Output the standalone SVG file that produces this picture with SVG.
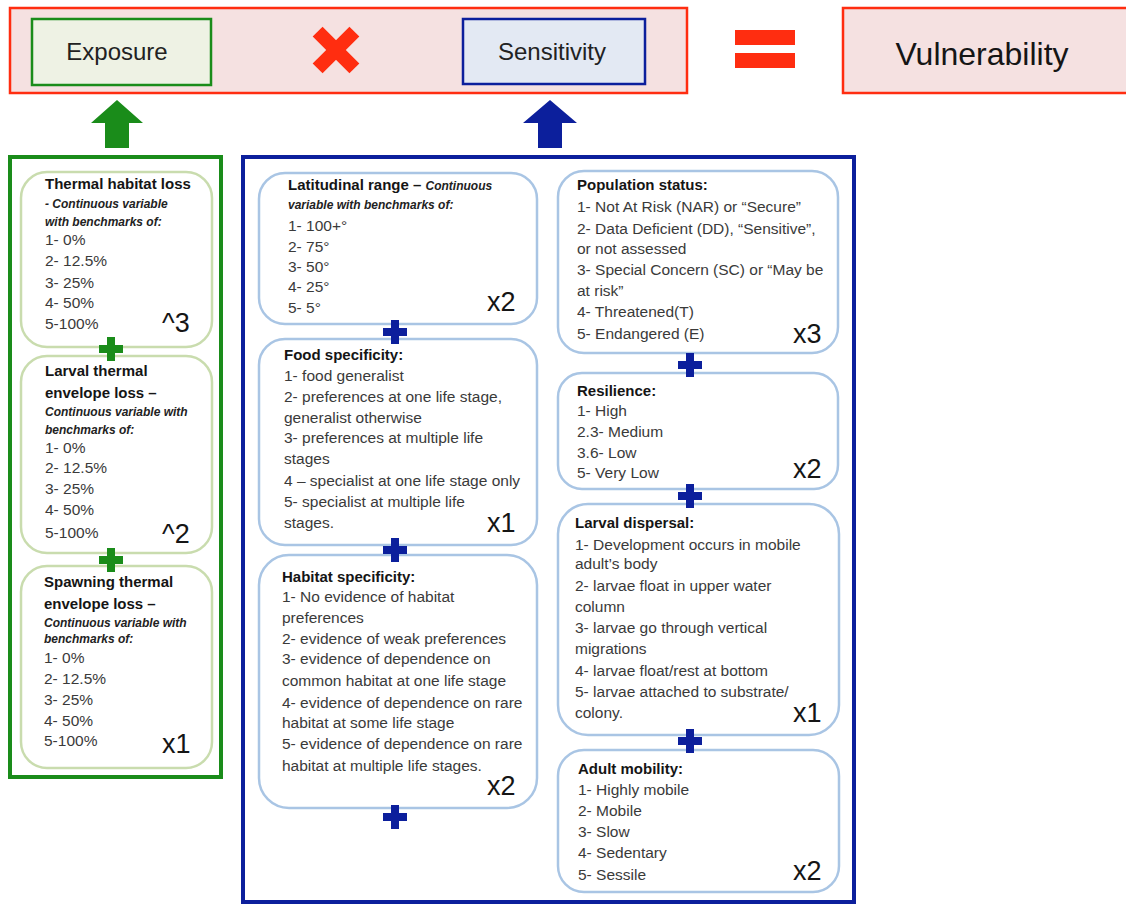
<svg xmlns="http://www.w3.org/2000/svg" width="1126" height="905" viewBox="0 0 1126 905">
<style>
text{font-family:"Liberation Sans",Arial,sans-serif}
.t{font-size:15px;font-weight:bold;fill:#151515}
.b{font-size:15.5px;fill:#3a3a3a}
.i{font-size:12px;font-weight:bold;font-style:italic;fill:#222}
.m{font-size:27px;fill:#151515}
.top{font-size:24px;fill:#222}
.gbox{fill:#fff;stroke:#c9dcae;stroke-width:2.5}
.bbox{fill:#fff;stroke:#a9c5e4;stroke-width:2.5}
.gp{fill:#1a8c1a}
.bp{fill:#0c1f9c}
.red{fill:#ff2d10}
</style>
<defs>
<path id="plus" d="M-4,-12h8v8h8v8h-8v8h-8v-8h-8v-8h8z"/>
</defs>
<rect width="1126" height="905" fill="#fff"/>
<g id="formula">
<rect x="10" y="8" width="677" height="85" fill="#f5e1e1" stroke="#ff2d10" stroke-width="2.5"/>
<g transform="rotate(45 336 50)"><rect class="red" x="329" y="24" width="14" height="52"/><rect class="red" x="310" y="43" width="52" height="14"/></g>
<rect class="red" x="735" y="30" width="60" height="15"/>
<rect class="red" x="735" y="53" width="60" height="15"/>
</g>
<g id="exposure"><rect x="32" y="19" width="179" height="66" fill="#eef2e4" stroke="#1a8c1a" stroke-width="2.5"/><text class="top" x="117" y="60" text-anchor="middle">Exposure</text></g>
<g id="sensitivity"><rect x="463" y="19" width="182" height="65" fill="#e3e9f3" stroke="#0c1f9c" stroke-width="2.5"/><text class="top" x="552" y="60" text-anchor="middle">Sensitivity</text></g>
<g id="vulnerability"><rect x="843" y="8" width="300" height="85" fill="#f5e1e1" stroke="#ff2d10" stroke-width="2.5"/><text x="982" y="65" text-anchor="middle" font-size="32" fill="#151515">Vulnerability</text></g>
<g id="exposure-frame">
<rect x="10" y="157" width="211" height="620" fill="none" stroke="#1a8c1a" stroke-width="4"/>
</g>
<g id="thermal-habitat">
<rect class="gbox" x="21" y="172" width="191" height="175" rx="26"/>
<text class="t" x="45" y="189">Thermal habitat loss</text>
<text class="i" x="45" y="208">-  Continuous variable</text>
<text class="i" x="45" y="226">with benchmarks of:</text>
<text class="b" x="45" y="245">1- 0%</text>
<text class="b" x="45" y="266">2- 12.5%</text>
<text class="b" x="45" y="288">3- 25%</text>
<text class="b" x="45" y="308">4- 50%</text>
<text class="b" x="45" y="329">5-100%</text>
<text class="m" x="162" y="332">^3</text>
</g>
<g id="larval-thermal">
<rect class="gbox" x="21" y="356" width="191" height="197" rx="26"/>
<text class="t" x="45" y="376">Larval thermal</text>
<text class="t" x="45" y="398">envelope loss –</text>
<text class="i" x="45" y="416">Continuous variable with</text>
<text class="i" x="45" y="434">benchmarks of:</text>
<text class="b" x="45" y="453">1- 0%</text>
<text class="b" x="45" y="473">2- 12.5%</text>
<text class="b" x="45" y="494">3- 25%</text>
<text class="b" x="45" y="515">4- 50%</text>
<text class="b" x="45" y="538">5-100%</text>
<text class="m" x="162" y="543">^2</text>
</g>
<g id="spawning-thermal">
<rect class="gbox" x="21" y="566" width="191" height="202" rx="26"/>
<text class="t" x="44" y="587">Spawning thermal</text>
<text class="t" x="44" y="609">envelope loss –</text>
<text class="i" x="44" y="627">Continuous variable with</text>
<text class="i" x="44" y="643">benchmarks of:</text>
<text class="b" x="44" y="663">1- 0%</text>
<text class="b" x="44" y="684">2- 12.5%</text>
<text class="b" x="44" y="705">3- 25%</text>
<text class="b" x="44" y="726">4- 50%</text>
<text class="b" x="44" y="746">5-100%</text>
<text class="m" x="162" y="753">x1</text>
</g>
<g id="sensitivity-frame">
<rect x="243" y="157" width="611" height="745" fill="none" stroke="#0c1f9c" stroke-width="4"/>
</g>
<g id="latitudinal-range">
<rect class="bbox" x="259" y="173" width="278" height="151" rx="26"/>
<text x="288" y="190"><tspan class="t">Latitudinal range – </tspan><tspan class="i">Continuous</tspan></text>
<text class="i" x="288" y="209">variable with benchmarks of:</text>
<text class="b" x="288" y="231">1- 100+°</text>
<text class="b" x="288" y="252">2- 75°</text>
<text class="b" x="288" y="272">3- 50°</text>
<text class="b" x="288" y="292">4- 25°</text>
<text class="b" x="288" y="313">5- 5°</text>
<text class="m" x="487" y="311">x2</text>
</g>
<g id="food-specificity">
<rect class="bbox" x="259" y="339" width="278" height="206" rx="26"/>
<text class="t" x="284" y="360">Food specificity:</text>
<text class="b" x="284" y="381">1- food generalist</text>
<text class="b" x="284" y="402">2- preferences at one life stage,</text>
<text class="b" x="284" y="423">generalist otherwise</text>
<text class="b" x="284" y="443">3- preferences at multiple life</text>
<text class="b" x="284" y="464">stages</text>
<text class="b" x="284" y="486">4 – specialist at one life stage only</text>
<text class="b" x="284" y="507">5- specialist at multiple life</text>
<text class="b" x="284" y="528">stages.</text>
<text class="m" x="487" y="532">x1</text>
</g>
<g id="habitat-specificity">
<rect class="bbox" x="259" y="555" width="278" height="253" rx="30"/>
<text class="t" x="282" y="582">Habitat specificity:</text>
<text class="b" x="282" y="602">1- No evidence of habitat</text>
<text class="b" x="282" y="623">preferences</text>
<text class="b" x="282" y="644">2- evidence of weak preferences</text>
<text class="b" x="282" y="664">3- evidence of dependence on</text>
<text class="b" x="282" y="686">common habitat at one  life stage</text>
<text class="b" x="282" y="708">4- evidence of dependence on rare</text>
<text class="b" x="282" y="728">habitat at some life stage</text>
<text class="b" x="282" y="749">5- evidence of dependence on rare</text>
<text class="b" x="282" y="771">habitat at multiple life stages.</text>
<text class="m" x="487" y="795">x2</text>
</g>
<g id="population-status">
<rect class="bbox" x="558" y="171" width="280" height="182" rx="26"/>
<text class="t" x="577" y="190">Population status:</text>
<text class="b" x="577" y="212">1- Not At Risk (NAR) or “Secure”</text>
<text class="b" x="577" y="234">2- Data Deficient (DD), “Sensitive”,</text>
<text class="b" x="577" y="254">or not assessed</text>
<text class="b" x="577" y="275">3- Special Concern (SC) or “May be</text>
<text class="b" x="577" y="296">at risk”</text>
<text class="b" x="577" y="317">4- Threatened(T)</text>
<text class="b" x="577" y="339">5- Endangered (E)</text>
<text class="m" x="793" y="343">x3</text>
</g>
<g id="resilience">
<rect class="bbox" x="558" y="373" width="280" height="116" rx="24"/>
<text class="t" x="577" y="396">Resilience:</text>
<text class="b" x="577" y="416">1- High</text>
<text class="b" x="577" y="437">2.3- Medium</text>
<text class="b" x="577" y="458">3.6- Low</text>
<text class="b" x="577" y="478">5- Very Low</text>
<text class="m" x="793" y="478">x2</text>
</g>
<g id="larval-dispersal">
<rect class="bbox" x="558" y="504" width="281" height="231" rx="30"/>
<text class="t" x="575" y="528">Larval dispersal:</text>
<text class="b" x="575" y="550">1- Development occurs in mobile</text>
<text class="b" x="575" y="569">adult’s body</text>
<text class="b" x="575" y="591">2- larvae float in upper water</text>
<text class="b" x="575" y="612">column</text>
<text class="b" x="575" y="633">3- larvae go through vertical</text>
<text class="b" x="575" y="654">migrations</text>
<text class="b" x="575" y="676">4- larvae float/rest at bottom</text>
<text class="b" x="575" y="697">5- larvae attached to substrate/</text>
<text class="b" x="575" y="718">colony.</text>
<text class="m" x="793" y="722">x1</text>
</g>
<g id="adult-mobility">
<rect class="bbox" x="558" y="750" width="281" height="142" rx="26"/>
<text class="t" x="578" y="774">Adult mobility:</text>
<text class="b" x="578" y="795">1- Highly mobile</text>
<text class="b" x="578" y="816">2- Mobile</text>
<text class="b" x="578" y="837">3- Slow</text>
<text class="b" x="578" y="858">4- Sedentary</text>
<text class="b" x="578" y="880">5- Sessile</text>
<text class="m" x="793" y="880">x2</text>
</g>
<g id="connectors">
<path class="gp" d="M117,100L143,123H129V148H105V123H91Z"/>
<path class="bp" d="M550,100L577,123H562V148H538V123H523Z"/>
<use href="#plus" class="gp" x="111" y="349"/>
<use href="#plus" class="gp" x="111" y="560"/>
<use href="#plus" class="bp" x="395" y="332"/>
<use href="#plus" class="bp" x="395" y="550"/>
<use href="#plus" class="bp" x="395" y="817"/>
<use href="#plus" class="bp" x="690" y="365"/>
<use href="#plus" class="bp" x="690" y="496"/>
<use href="#plus" class="bp" x="690" y="741"/>
</g>
</svg>
